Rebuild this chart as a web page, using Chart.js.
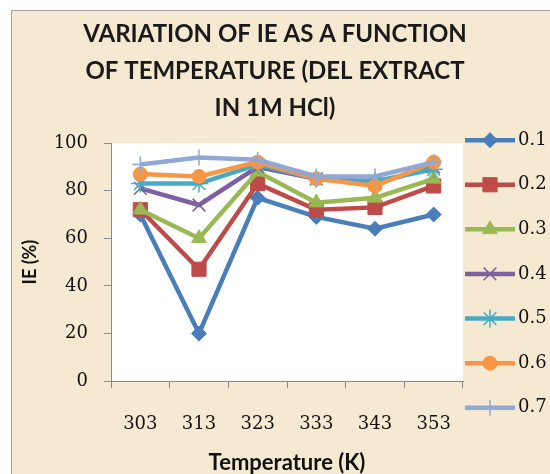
<!DOCTYPE html>
<html lang="en">
<head>
<meta charset="UTF-8">
<title>Variation of IE with temperature</title>
<script src="https://cdn.jsdelivr.net/npm/chart.js"></script>
<style>
  html, body { margin: 0; padding: 0; background: #fff; }
</style>
</head>
<body>
<canvas id="ieChart" width="550" height="474"></canvas>
<script>
// temperature (K) on the x axis
const temperatures = ['303', '313', '323', '333', '343', '353'];
// extract concentrations, one line each
const concentrations = ['0.1', '0.2', '0.3', '0.4', '0.5', '0.6', '0.7'];

// inhibition efficiency IE (%) per temperature
const ie01 = [70, 20, 77, 69, 64, 70];
const ie02 = [72, 47, 83, 72, 73, 82];
const ie03 = [72, 60, 88, 75, 77, 85];
const ie04 = [81, 74, 90, 85, 83, 90];
const ie05 = [83, 83, 91, 85, 84, 89];
const ie06 = [87, 86, 92, 85, 82, 92];
const ie07 = [91, 94, 93, 86, 86, 92];

const yTicks = [0, 20, 40, 60, 80, 100];

const series = [ie01, ie02, ie03, ie04, ie05, ie06, ie07];
const colors = ['#4a7ebb', '#be4b48', '#98b954', '#7d60a0', '#46aac5', '#f79646', '#91a8d4'];
const markers = ['rectRot', 'rect', 'triangle', 'crossRot', 'star', 'circle', 'cross'];
const markerSize = [7.5, 10, 8.5, 9, 9, 7, 8];
const markerStroke = [1, 1, 1, 1.5, 1.5, 1, 1.5];

const datasets = series.map((vals, i) => ({
  label: concentrations[i],
  data: vals,
  borderColor: colors[i],
  backgroundColor: colors[i],
  borderWidth: 4.5,
  tension: 0,
  pointStyle: markers[i],
  pointRadius: markerSize[i],
  pointHoverRadius: markerSize[i],
  pointBackgroundColor: colors[i],
  pointBorderColor: colors[i],
  pointBorderWidth: markerStroke[i],
  order: series.length - i   // later series sit on top
}));

// beige chart frame with a white plot area
const paper = {
  id: 'paper',
  beforeDraw(chart) {
    const { ctx, chartArea: a } = chart;
    ctx.save();
    ctx.fillStyle = '#ffffff';
    ctx.fillRect(0, 0, chart.width, chart.height);
    ctx.fillStyle = '#f6e9d1';
    ctx.fillRect(11, 10, chart.width, chart.height);
    ctx.strokeStyle = '#a3a3a3';
    ctx.lineWidth = 1;
    ctx.strokeRect(11.5, 10.5, chart.width + 10, chart.height + 10);
    ctx.fillStyle = '#ffffff';
    ctx.fillRect(a.left, a.top, a.right - a.left, a.bottom - a.top);
    ctx.restore();
  }
};

// legend on the right: line with marker, then the label
const sideLegend = {
  id: 'sideLegend',
  afterDraw(chart) {
    const { ctx, chartArea } = chart;
    const x0 = chartArea.right + 2;
    ctx.save();
    chart.data.datasets.forEach((ds, i) => {
      const y = chartArea.top - 3 + i * 44.6;
      ctx.strokeStyle = ds.borderColor;
      ctx.lineWidth = ds.borderWidth;
      ctx.beginPath();
      ctx.moveTo(x0, y);
      ctx.lineTo(x0 + 50, y);
      ctx.stroke();
      ctx.fillStyle = ds.pointBackgroundColor;
      ctx.strokeStyle = ds.pointBorderColor;
      ctx.lineWidth = ds.pointBorderWidth;
      Chart.helpers.drawPoint(ctx, {
        pointStyle: ds.pointStyle,
        radius: ds.pointRadius,
        rotation: 0,
        borderWidth: ds.pointBorderWidth
      }, x0 + 25, y);
      ctx.fillStyle = '#111111';
      ctx.font = '18px "DejaVu Serif"';
      ctx.textAlign = 'left';
      ctx.textBaseline = 'middle';
      ctx.fillText(ds.label, x0 + 53, y);
    });
    ctx.restore();
  }
};

const axisGray = '#8a8a8a';

new Chart(document.getElementById('ieChart'), {
  type: 'line',
  data: { labels: temperatures, datasets },
  plugins: [paper, sideLegend],
  options: {
    responsive: false,
    animation: false,
    layout: { padding: 0 },
    plugins: {
      legend: { display: false },
      tooltip: { enabled: false },
      title: {
        display: true,
        text: ['VARIATION OF IE AS A FUNCTION', 'OF TEMPERATURE (DEL EXTRACT', 'IN 1M HCl)'],
        color: '#1a1a1a',
        font: { family: 'Lato', size: 24, weight: 'bold', lineHeight: 1.53 },
        padding: { top: 16, bottom: 17 }
      }
    },
    scales: {
      x: {
        offset: true,
        grid: { offset: true, drawOnChartArea: false, drawTicks: true, tickLength: 7, color: axisGray },
        border: { color: axisGray, width: 1 },
        ticks: { color: '#111111', font: { family: 'DejaVu Serif', size: 18 }, padding: 26 },
        title: {
          display: true,
          text: 'Temperature (K)',
          color: '#111111',
          font: { family: 'Lato', size: 22, weight: 'bold', lineHeight: 1 },
          padding: { top: 0, bottom: 0 }
        },
        afterFit(scale) { scale.height = 93; }
      },
      y: {
        min: 0,
        max: 100,
        afterBuildTicks(scale) { scale.ticks = yTicks.map(v => ({ value: v })); },
        grid: { drawOnChartArea: false, drawTicks: true, tickLength: 7, color: axisGray },
        border: { color: axisGray, width: 1 },
        ticks: { color: '#111111', font: { family: 'DejaVu Serif', size: 18 }, padding: 16 },
        title: {
          display: true,
          text: 'IE (%)',
          color: '#111111',
          font: { family: 'Lato', size: 18, weight: 'bold', lineHeight: 1.2 },
          padding: { top: 19, bottom: 0 }
        },
        afterFit(scale) { scale.width = 111; }
      },
      // empty strip on the right that holds the legend
      legendSpace: {
        type: 'linear',
        position: 'right',
        grid: { display: false },
        border: { display: false },
        ticks: { display: false },
        afterFit(scale) { scale.width = 87; }
      }
    }
  }
});
</script>
</body>
</html>
